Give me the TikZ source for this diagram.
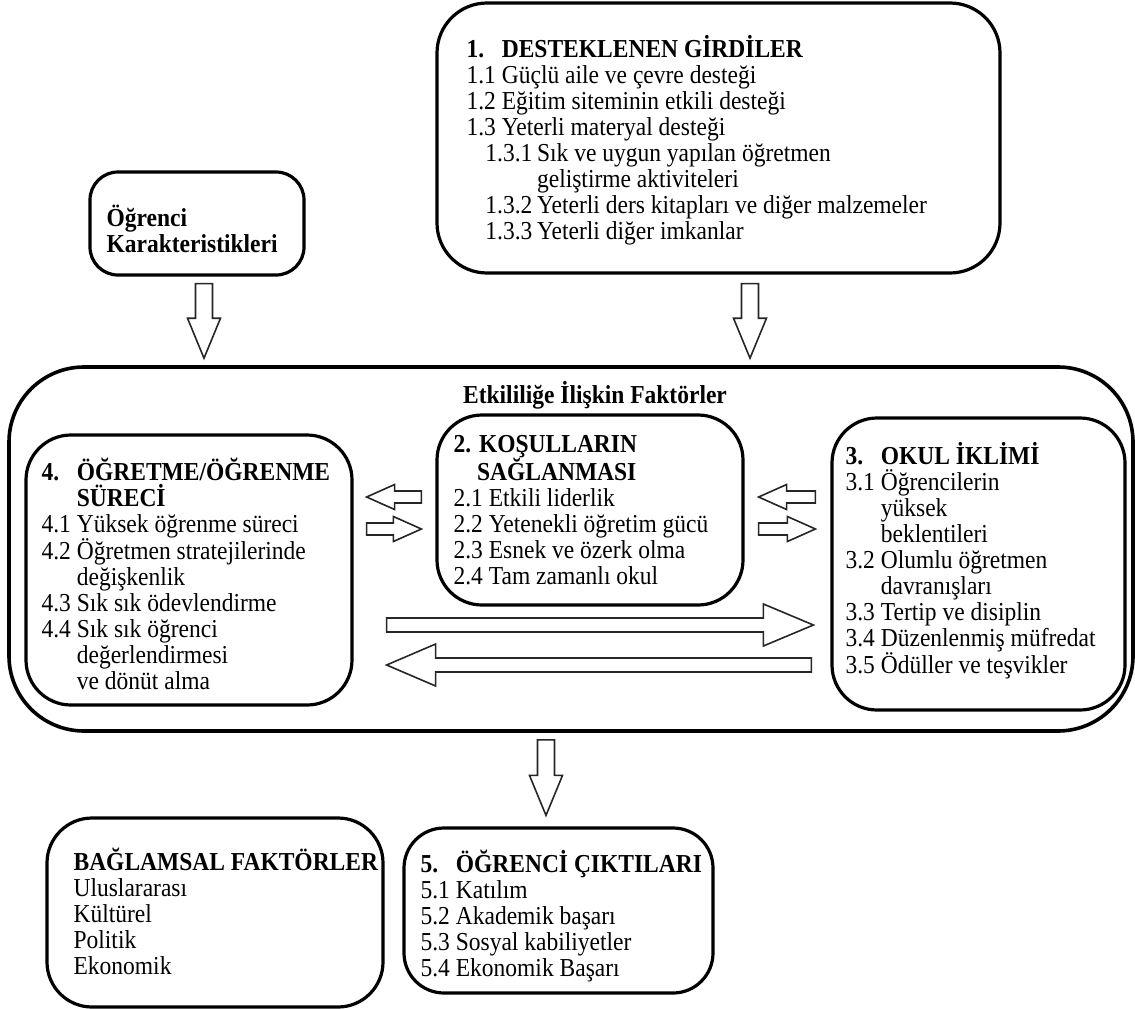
\documentclass[tikz,border=0pt]{standalone}
\usepackage{fontspec}
\setmainfont{Liberation Serif}
\usetikzlibrary{positioning, calc}

\newcommand{\lbl}[1]{\makebox[1.5em][l]{#1}}
\newcommand{\blockarrow}[5]{%
  \coordinate (hb) at ($(#2)!#5!(#1)$);
  \draw[blockline] ($(#1)!#3!90:(#2)$) -- ($(hb)!#3!90:(#2)$) -- ($(hb)!#4!90:(#2)$)
    -- (#2) -- ($(hb)!#4!-90:(#2)$) -- ($(hb)!#3!-90:(#2)$) -- ($(#1)!#3!-90:(#2)$) -- cycle;
}

\tikzset{
  panel/.style={draw=black, line width=3.2pt, rounded corners=#1, inner sep=0pt},
  txt/.style={align=left, inner sep=0pt, anchor=west, yscale=1.1, transform shape,
    font=\fontsize{23.5}{23.6}\selectfont},
  blockline/.style={draw=black!85, line width=1.6pt, fill=white, line join=miter}
}

\begin{document}
\begin{tikzpicture}[x=1pt, y=-1pt]
\useasboundingbox (0,0) rectangle (1135,1009);

\node[panel=28pt, minimum width=214pt, minimum height=103pt] (stud) at (197,223.5) {};
\node[panel=50pt, minimum width=563pt, minimum height=270pt] (inp) at (718.5,138) {};
\node[panel=75pt, line width=3.6pt, minimum width=1124pt, minimum height=364pt] (eff) at (571,549) {};
\node[panel=45pt, minimum width=306pt, minimum height=190pt] (cond) at (590,510) {};
\node[panel=45pt, minimum width=293pt, minimum height=292pt] (clim) at (978.5,564) {};
\node[panel=45pt, minimum width=326pt, minimum height=270pt] (proc) at (189,570) {};
\node[panel=45pt, minimum width=336pt, minimum height=189pt] (ctx) at (215,912.5) {};
\node[panel=40pt, minimum width=309pt, minimum height=165pt] (outc) at (558.5,910.5) {};

\node[txt] (studtxt) at ($(stud.west)+(18,5.5)$) {\textbf{Öğrenci}\\\textbf{Karakteristikleri}};
\node[txt] (inptxt) at ($(inp.west)+(31,2)$) {\textbf{\lbl{1.}DESTEKLENEN GİRDİLER}\\
  \lbl{1.1}Güçlü aile ve çevre desteği\\
  \lbl{1.2}Eğitim siteminin etkili desteği\\
  \lbl{1.3}Yeterli materyal desteği\\
  \hspace*{0.8em}\makebox[2.2em][l]{1.3.1}Sık ve uygun yapılan öğretmen\\
  \hspace*{0.8em}\makebox[2.2em][l]{}geliştirme aktiviteleri\\
  \hspace*{0.8em}\makebox[2.2em][l]{1.3.2}Yeterli ders kitapları ve diğer malzemeler\\
  \hspace*{0.8em}\makebox[2.2em][l]{1.3.3}Yeterli diğer imkanlar};
\node[txt, anchor=center] (efftitle) at ($(eff.north)+(24,30)$) {\textbf{Etkililiğe İlişkin Faktörler}};
\node[txt] (condtxt) at ($(cond.west)+(18,0)$) {\textbf{2. KOŞULLARIN}\\
  \hspace*{1em}\textbf{SAĞLANMASI}\\
  2.1 Etkili liderlik\\
  2.2 Yetenekli öğretim gücü\\
  2.3 Esnek ve özerk olma\\
  2.4 Tam zamanlı okul};
\node[txt] (climtxt) at ($(clim.west)+(15,-3)$) {\textbf{\lbl{3.}OKUL İKLİMİ}\\
  \lbl{3.1}Öğrencilerin\\
  \lbl{}yüksek\\
  \lbl{}beklentileri\\
  \lbl{3.2}Olumlu öğretmen\\
  \lbl{}davranışları\\
  \lbl{3.3}Tertip ve disiplin\\
  \lbl{3.4}Düzenlenmiş müfredat\\
  \lbl{3.5}Ödüller ve teşvikler};
\node[txt] (proctxt) at ($(proc.west)+(17,4)$) {\textbf{\lbl{4.}ÖĞRETME/ÖĞRENME}\\
  \lbl{}\textbf{SÜRECİ}\\
  \lbl{4.1}Yüksek öğrenme süreci\\
  \lbl{4.2}Öğretmen stratejilerinde\\
  \lbl{}değişkenlik\\
  \lbl{4.3}Sık sık ödevlendirme\\
  \lbl{4.4}Sık sık öğrenci\\
  \lbl{}değerlendirmesi\\
  \lbl{}ve dönüt alma};
\node[txt] (ctxtxt) at ($(ctx.west)+(28,-1)$) {\textbf{BAĞLAMSAL FAKTÖRLER}\\
  Uluslararası\\
  Kültürel\\
  Politik\\
  Ekonomik};
\node[txt] (outctxt) at ($(outc.west)+(18,5.5)$) {\textbf{\lbl{5.}ÖĞRENCİ ÇIKTILARI}\\
  \lbl{5.1}Katılım\\
  \lbl{5.2}Akademik başarı\\
  \lbl{5.3}Sosyal kabiliyetler\\
  \lbl{5.4}Ekonomik Başarı};

\coordinate (s1) at ($(stud.south)+(7,7)$);
\coordinate (e1) at ($(s1 |- eff.north)+(0,-7)$);
\coordinate (s2) at ($(inp.south)+(31.5,9)$);
\coordinate (e2) at ($(s2 |- eff.north)+(0,-7)$);
\coordinate (s3) at ($(eff.south)+(-25,7)$);
\coordinate (e3) at ($(s3 |- outc.north)+(0,-11)$);
\coordinate (s4) at ($(cond.west)+(-14,-13)$);
\coordinate (e4) at ($(proc.east |- s4)+(13,0)$);
\coordinate (s5) at ($(proc.east)+(13,-41)$);
\coordinate (e5) at ($(cond.west |- s5)+(-14,0)$);
\coordinate (s6) at ($(clim.west)+(-15,-67)$);
\coordinate (e6) at ($(cond.east |- s6)+(14,0)$);
\coordinate (s7) at ($(cond.east)+(14,19)$);
\coordinate (e7) at ($(clim.west |- s7)+(-15,0)$);
\coordinate (s8) at ($(proc.east)+(33,55)$);
\coordinate (e8) at ($(clim.west |- s8)+(-17,0)$);
\coordinate (s9) at ($(clim.west)+(-19,101)$);
\coordinate (e9) at ($(proc.east |- s9)+(33,0)$);

\blockarrow{s1}{e1}{8.5pt}{16.5pt}{40pt}
\blockarrow{s2}{e2}{8.5pt}{16.5pt}{40pt}
\blockarrow{s3}{e3}{8.5pt}{16.5pt}{40pt}
\blockarrow{s4}{e4}{6pt}{12.5pt}{28pt}
\blockarrow{s5}{e5}{6pt}{12.5pt}{28pt}
\blockarrow{s6}{e6}{6pt}{12.5pt}{28pt}
\blockarrow{s7}{e7}{6pt}{12.5pt}{28pt}
\blockarrow{s8}{e8}{7pt}{21pt}{50pt}
\blockarrow{s9}{e9}{7pt}{21pt}{49pt}
\end{tikzpicture}
\end{document}
